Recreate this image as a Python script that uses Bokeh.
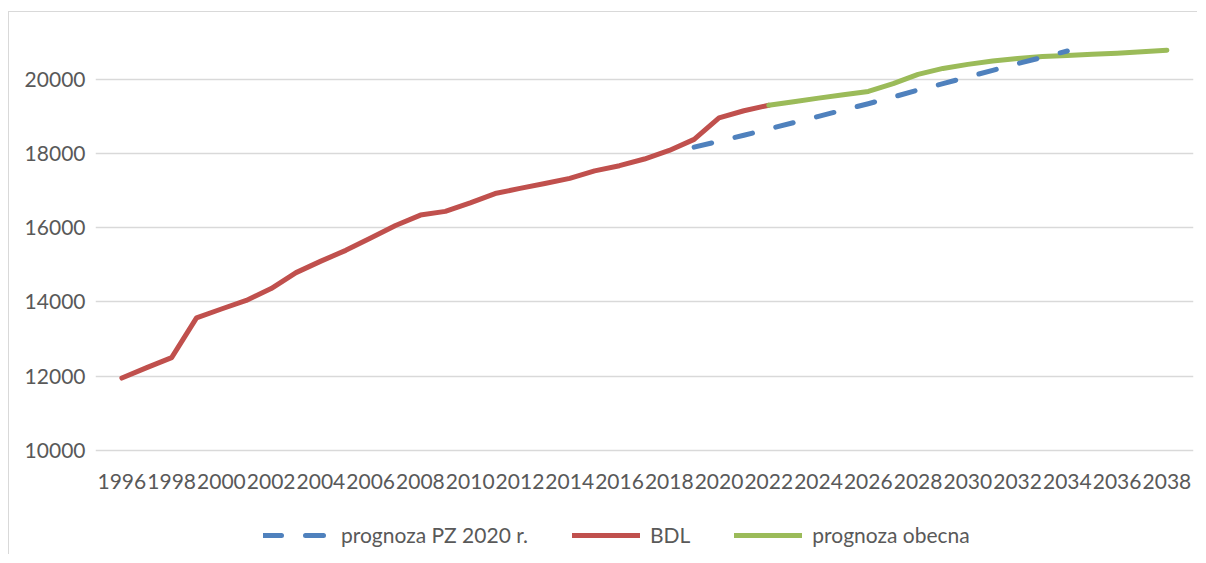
from bokeh.plotting import figure
from bokeh.models import Range1d, FixedTicker, Legend, LegendItem
from bokeh.embed import file_html
from bokeh.resources import INLINE

# ---- data ----
tick_years = list(range(1996, 2039, 2))
y_ticks = [10000, 12000, 14000, 16000, 18000, 20000]

bdl_years = list(range(1996, 2023))
bdl_values = [11950, 12230, 12500, 13570, 13810, 14040, 14360, 14790, 15100,
              15390, 15720, 16060, 16340, 16440, 16670, 16920, 17060, 17190,
              17330, 17530, 17670, 17850, 18080, 18380, 18960, 19150, 19300]

pz_years = list(range(2019, 2035))
pz_values = [18170, 18330, 18490, 18660, 18830, 19000, 19170, 19340, 19520,
             19710, 19880, 20060, 20240, 20420, 20590, 20760]

obecna_years = list(range(2022, 2039))
obecna_values = [19300, 19390, 19490, 19580, 19670, 19880, 20130, 20290, 20400,
                 20490, 20560, 20610, 20640, 20670, 20700, 20740, 20780]

series_labels = ["prognoza PZ 2020 r.", "BDL", "prognoza obecna"]

# ---- figure ----
FONT = "Lato"
TXT = "#595959"

# frame reaches down to the canvas bottom so the legend can sit inside it;
# the value axis itself starts at 10000 (x axis fixed there)
p = figure(width=1189, height=543,
           x_range=Range1d(1994.94, 2039.07), y_range=Range1d(7170, 21312),
           output_backend="svg", toolbar_location=None,
           min_border_left=86, min_border_right=5,
           min_border_top=18, min_border_bottom=0)
p.styles = {"border-top": "1px solid #d9d9d9", "border-left": "1px solid #d9d9d9",
            "margin-top": "11px", "margin-left": "8px"}
p.outline_line_color = None
p.background_fill_color = "white"
p.border_fill_color = "white"

p.xgrid.grid_line_color = None
p.ygrid.grid_line_color = "#d9d9d9"
p.ygrid.grid_line_width = 1.5

p.xaxis.ticker = FixedTicker(ticks=tick_years)
p.yaxis.ticker = FixedTicker(ticks=y_ticks)
p.xaxis.fixed_location = 10000
for ax in (p.xaxis, p.yaxis):
    ax.axis_line_color = None
    ax.major_tick_line_color = None
    ax.minor_tick_line_color = None
    ax.major_label_text_font = FONT
    ax.major_label_text_font_size = "21px"
    ax.major_label_text_color = TXT
p.xaxis.major_label_standoff = 18
p.yaxis.major_label_standoff = 4

r_bdl = p.line(bdl_years, bdl_values, line_color="#C0504D", line_width=5,
               line_cap="round", line_join="round")
r_ob = p.line(obecna_years, obecna_values, line_color="#9BBB59", line_width=5,
              line_cap="round", line_join="round")
r_pz = p.line(pz_years, pz_values, line_color="#4F81BD", line_width=5,
              line_dash="18 24", line_cap="round", line_join="round")

legend = Legend(items=[LegendItem(label=series_labels[0], renderers=[r_pz]),
                       LegendItem(label=series_labels[1], renderers=[r_bdl]),
                       LegendItem(label=series_labels[2], renderers=[r_ob])],
                orientation="horizontal", location=(168, 8),
                border_line_color=None, background_fill_alpha=0,
                padding=0, margin=0, spacing=44,
                glyph_width=68, glyph_height=20, label_standoff=10,
                label_text_font=FONT, label_text_font_size="21px",
                label_text_color=TXT)
p.add_layout(legend)

open("out.html", "w").write(file_html(p, INLINE))
